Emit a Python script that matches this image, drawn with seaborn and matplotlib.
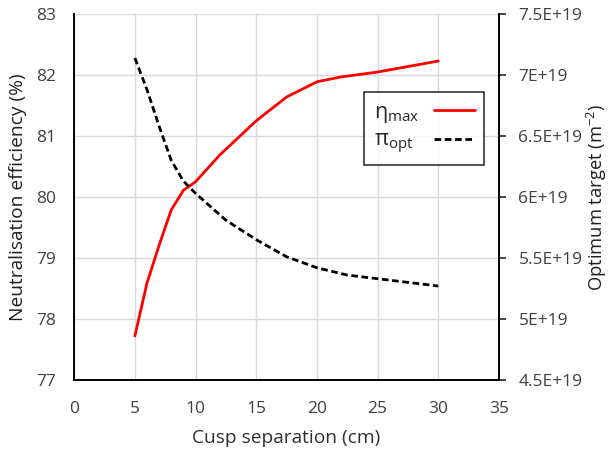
import numpy as np
import pandas as pd
import seaborn as sns
import matplotlib
matplotlib.use("Agg")
import matplotlib.pyplot as plt
from matplotlib.ticker import FuncFormatter

# values
sep_eta = [5, 6, 7, 8, 9, 10, 12, 15, 17.5, 20, 22, 25, 30]
eta_max = [77.72, 78.59, 79.21, 79.79, 80.11, 80.25, 80.69, 81.25, 81.64, 81.89, 81.97, 82.05, 82.23]

sep_pi = [5, 6, 7, 8, 9, 10, 12.5, 15, 17.5, 20, 22.5, 25, 30]
pi_opt = [7.14e19, 6.88e19, 6.58e19, 6.30e19, 6.13e19, 6.03e19, 5.81e19, 5.65e19,
          5.51e19, 5.42e19, 5.36e19, 5.33e19, 5.27e19]

left_ticks = [77, 78, 79, 80, 81, 82, 83]
right_ticks = [4.5e19, 5e19, 5.5e19, 6e19, 6.5e19, 7e19, 7.5e19]
x_ticks = [0, 5, 10, 15, 20, 25, 30, 35]

df_eta = pd.DataFrame({"sep": sep_eta, "val": eta_max})
df_pi = pd.DataFrame({"sep": sep_pi, "val": pi_opt})

sns.set_style("white")
plt.rcParams["font.family"] = ["Open Sans", "DejaVu Sans"]
plt.rcParams["mathtext.fontset"] = "custom"
plt.rcParams["mathtext.rm"] = "Open Sans"
plt.rcParams["mathtext.it"] = "Open Sans:italic"

fig, ax = plt.subplots(figsize=(6.13, 4.55), dpi=100)
fig.subplots_adjust(left=0.121, right=0.814, top=0.969, bottom=0.165)
ax2 = ax.twinx()

sns.lineplot(data=df_eta, x="sep", y="val", ax=ax, color="#ff0000", lw=2, label="η$_{\\mathrm{max}}$", legend=False)
sns.lineplot(data=df_pi, x="sep", y="val", ax=ax2, color="black", lw=2, linestyle=(0, (2.4, 1.3)),
             label="π$_{\\mathrm{opt}}$", legend=False)

ax.set_xlim(0, 35)
ax.set_ylim(77, 83)
ax2.set_ylim(4.5e19, 7.5e19)
ax.set_xticks(x_ticks)
ax.set_yticks(left_ticks)
ax2.set_yticks(right_ticks)
ax2.yaxis.set_major_formatter(FuncFormatter(lambda v, p: f"{v / 1e19:g}E+19"))

ax.grid(True, color="#d9d9d9", lw=1)
ax.set_axisbelow(True)

for a in (ax, ax2):
    a.spines["top"].set_visible(False)
    for s in ("left", "right", "bottom"):
        a.spines[s].set_color("black")
        a.spines[s].set_linewidth(1.2)
ax.tick_params(axis="x", length=0, labelsize=12.5, colors="#404040", pad=15)
ax.tick_params(axis="y", length=0, labelsize=12.5, colors="#404040", pad=13)
ax2.tick_params(axis="y", length=5, width=1.2, direction="out", labelsize=12.5, labelcolor="#404040", pad=9)

ax.set_xlabel("Cusp separation (cm)", fontsize=13.8, color="#303030")
ax.set_ylabel("Neutralisation efficiency (%)", fontsize=13.8, color="#202020")
ax2.set_ylabel("Optimum target (m$^{-2}$)", fontsize=13.2, color="#202020")
ax.xaxis.set_label_coords(0.5, -0.135)
ax.yaxis.set_label_coords(-0.11, 0.5)
ax2.yaxis.set_label_coords(1.203, 0.5)

h1, l1 = ax.get_legend_handles_labels()
h2, l2 = ax2.get_legend_handles_labels()
leg = ax2.legend(h1 + h2, l1 + l2, loc="upper left", bbox_to_anchor=(0.682, 0.787),
                 markerfirst=False, frameon=True, fancybox=False, fontsize=15.5,
                 handlelength=1.9, handletextpad=0.7, borderpad=0.45, labelspacing=0.25,
                 borderaxespad=0)
leg.get_frame().set_edgecolor("black")
leg.get_frame().set_linewidth(1.2)

# left-align the labels while keeping the handles in one column
fig.canvas.draw()
r = fig.canvas.get_renderer()
for col in leg._legend_handle_box.get_children():
    items = col.get_children()
    w = max(it.get_bbox(r).width for it in items)
    for it in items:
        it.mode = "expand"
        it.width = w

fig.savefig("out.png", dpi=100)
